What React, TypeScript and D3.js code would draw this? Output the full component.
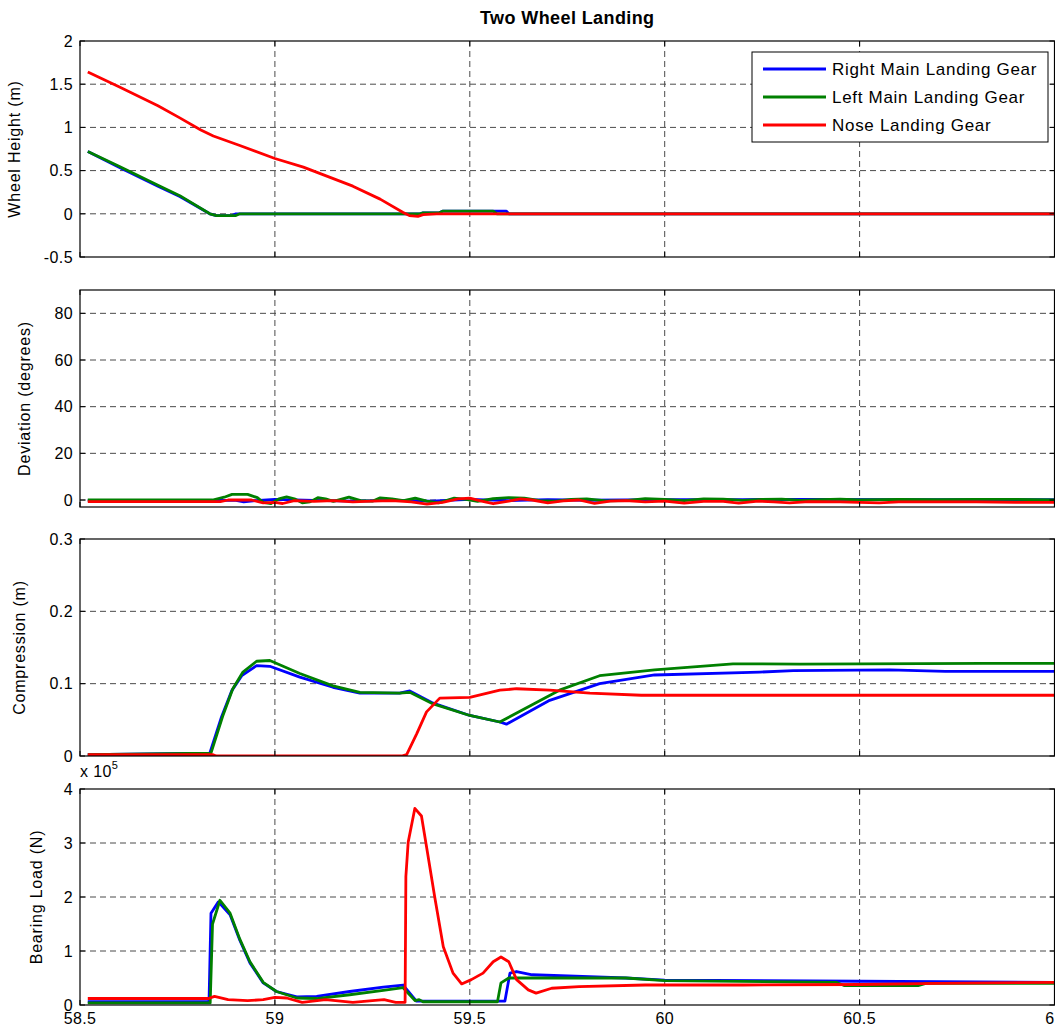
import React from "react";
import * as d3 from "d3";

type P = [number, number];

const xTicks = [58.5, 59, 59.5, 60, 60.5, 61];
const xTickLabels = ["58.5", "59", "59.5", "60", "60.5", "61"];

const seriesNames = ["Right Main Landing Gear", "Left Main Landing Gear", "Nose Landing Gear"];
const seriesColors = ["#0000ff", "#008000", "#ff0000"];

// Panel 1: Wheel Height (m)
const heightRight: P[] = [[58.52, 0.72], [58.6, 0.54], [58.7, 0.32], [58.756, 0.2], [58.833, 0.0], [58.85, -0.02], [58.89, -0.02], [58.9, 0], [59.372, 0], [59.38, 0.01], [59.42, 0.01], [59.43, 0.03], [59.594, 0.03], [59.6, 0], [61, 0]];
const heightLeft: P[] = [[58.52, 0.72], [58.6, 0.55], [58.7, 0.33], [58.756, 0.21], [58.833, 0.0], [58.85, -0.02], [58.9, -0.02], [58.91, 0], [59.372, 0], [59.38, 0.01], [59.42, 0.01], [59.43, 0.03], [59.56, 0.03], [59.57, 0], [61, 0]];
const heightNose: P[] = [[58.52, 1.64], [58.6, 1.47], [58.7, 1.25], [58.756, 1.11], [58.81, 0.97], [58.842, 0.9], [58.91, 0.79], [59.0, 0.64], [59.073, 0.54], [59.2, 0.32], [59.27, 0.17], [59.329, 0.015], [59.345, -0.02], [59.367, -0.03], [59.38, -0.01], [59.415, 0], [61, 0]];

// Panel 2: Deviation (degrees)
const devRight: P[] = [[58.52, -0.2], [58.9, -0.2], [58.92, -0.8], [58.95, -0.3], [59.0, 0.3], [59.1, -0.2], [59.2, -0.5], [59.3, -0.2], [59.4, -0.5], [59.5, 0.3], [59.6, -0.3], [59.7, 0.2], [59.8, -0.1], [60.0, 0.2], [60.2, 0.2], [60.4, 0.3], [60.6, 0.2], [60.8, 0.2], [61, 0.2]];
const devLeft: P[] = [[58.52, 0], [58.84, 0], [58.87, 1.2], [58.89, 2.4], [58.93, 2.4], [58.955, 1.0], [58.97, -1.0], [58.99, -1.5], [59.01, 0.5], [59.03, 1.3], [59.05, 0.5], [59.07, -1.2], [59.09, -0.8], [59.11, 1.0], [59.13, 0.5], [59.15, -0.6], [59.19, 1.2], [59.22, -0.3], [59.25, -0.5], [59.27, 0.9], [59.3, 0.5], [59.33, -0.3], [59.36, 0.8], [59.39, -0.5], [59.42, -1.2], [59.46, 0.8], [59.49, 0.3], [59.52, -0.6], [59.56, 0.6], [59.6, 1.0], [59.64, 0.8], [59.68, -0.3], [59.72, -0.5], [59.76, 0.3], [59.8, 0.5], [59.85, -0.4], [59.9, -0.3], [59.95, 0.6], [60.0, 0.3], [60.05, -0.3], [60.1, 0.5], [60.15, 0.4], [60.2, -0.2], [60.25, 0.3], [60.3, 0.4], [60.35, -0.2], [60.4, 0.2], [60.45, 0.4], [60.5, 0], [60.6, 0.3], [60.7, 0.2], [60.8, 0.3], [60.9, 0.3], [61, 0]];
const devNose: P[] = [[58.52, -0.7], [58.86, -0.7], [58.88, 0], [58.94, 0], [58.97, -1.2], [59.0, -1.0], [59.02, -1.5], [59.05, -0.3], [59.1, -0.6], [59.15, -0.3], [59.2, -0.8], [59.25, -0.5], [59.3, -0.3], [59.35, -0.8], [59.39, -1.8], [59.43, -1.0], [59.47, 0.5], [59.5, 0.8], [59.53, -0.5], [59.56, -1.6], [59.6, -0.5], [59.63, 0.5], [59.66, 0], [59.7, -1.2], [59.74, -0.4], [59.78, 0], [59.82, -1.4], [59.86, -0.5], [59.9, -0.3], [59.95, -0.8], [60.0, -0.5], [60.05, -1.3], [60.1, -0.6], [60.15, -0.6], [60.19, -1.3], [60.24, -0.5], [60.28, -0.8], [60.32, -1.2], [60.37, -0.7], [60.45, -0.8], [60.55, -1.2], [60.6, -0.8], [60.7, -0.8], [60.8, -0.8], [60.9, -1.0], [61, -1.0]];

// Panel 3: Compression (m)
const compRight: P[] = [[58.52, 0.002], [58.833, 0.004], [58.863, 0.054], [58.889, 0.09], [58.915, 0.111], [58.953, 0.125], [58.987, 0.124], [59.064, 0.109], [59.149, 0.095], [59.218, 0.087], [59.32, 0.087], [59.346, 0.09], [59.406, 0.073], [59.5, 0.056], [59.577, 0.047], [59.594, 0.044], [59.705, 0.077], [59.833, 0.1], [59.974, 0.112], [60.244, 0.116], [60.33, 0.118], [60.577, 0.119], [60.72, 0.117], [61, 0.117]];
const compLeft: P[] = [[58.52, 0.002], [58.836, 0.004], [58.866, 0.055], [58.892, 0.093], [58.918, 0.116], [58.953, 0.131], [58.987, 0.132], [59.064, 0.114], [59.149, 0.097], [59.218, 0.088], [59.32, 0.087], [59.346, 0.088], [59.406, 0.072], [59.5, 0.056], [59.577, 0.047], [59.73, 0.091], [59.833, 0.111], [59.974, 0.119], [60.175, 0.1275], [60.346, 0.127], [60.816, 0.128], [61, 0.128]];
const compNose: P[] = [[58.52, 0.002], [58.84, 0.002], [58.85, 0], [59.325, 0], [59.338, 0.002], [59.364, 0.031], [59.389, 0.061], [59.423, 0.08], [59.5, 0.081], [59.577, 0.091], [59.62, 0.093], [59.705, 0.091], [59.808, 0.087], [59.94, 0.084], [61, 0.084]];

// Panel 4: Bearing Load (x 10^5 N)
const loadRight: P[] = [[58.52, 0.06], [58.831, 0.06], [58.836, 1.7], [58.855, 1.91], [58.885, 1.67], [58.91, 1.2], [58.936, 0.78], [58.97, 0.41], [59.004, 0.25], [59.056, 0.15], [59.107, 0.16], [59.192, 0.25], [59.278, 0.33], [59.329, 0.37], [59.363, 0.07], [59.59, 0.07], [59.603, 0.59], [59.62, 0.62], [59.66, 0.56], [59.9, 0.5], [60.0, 0.46], [60.5, 0.44], [61, 0.42]];
const loadLeft: P[] = [[58.52, 0.04], [58.834, 0.04], [58.84, 1.5], [58.859, 1.94], [58.885, 1.7], [58.91, 1.22], [58.936, 0.8], [58.97, 0.42], [59.004, 0.25], [59.056, 0.13], [59.107, 0.12], [59.192, 0.19], [59.278, 0.27], [59.329, 0.32], [59.36, 0.08], [59.37, 0.1], [59.38, 0.06], [59.571, 0.06], [59.58, 0.41], [59.6, 0.5], [59.9, 0.5], [60.0, 0.45], [60.44, 0.42], [60.46, 0.36], [60.65, 0.36], [60.67, 0.4], [61, 0.4]];
const loadNose: P[] = [[58.52, 0.12], [58.83, 0.12], [58.845, 0.16], [58.88, 0.1], [58.93, 0.08], [58.97, 0.1], [59.0, 0.14], [59.03, 0.13], [59.07, 0.05], [59.13, 0.1], [59.2, 0.05], [59.25, 0.08], [59.28, 0.1], [59.31, 0.05], [59.334, 0.05], [59.336, 2.38], [59.342, 3.02], [59.359, 3.64], [59.376, 3.5], [59.389, 2.93], [59.41, 2.0], [59.432, 1.08], [59.457, 0.59], [59.479, 0.39], [59.504, 0.47], [59.534, 0.59], [59.56, 0.8], [59.58, 0.89], [59.6, 0.8], [59.62, 0.47], [59.65, 0.28], [59.67, 0.22], [59.71, 0.31], [59.78, 0.34], [59.95, 0.37], [60.2, 0.37], [60.5, 0.38], [60.7, 0.4], [61, 0.42]];

const panels = [
  { label: "Wheel Height (m)", domain: [-0.5, 2], ticks: [-0.5, 0, 0.5, 1, 1.5, 2], tickLabels: ["-0.5", "0", "0.5", "1", "1.5", "2"], series: [heightRight, heightLeft, heightNose], top: 41, bottom: 257, labelX: 20 },
  { label: "Deviation (degrees)", domain: [-3, 90], ticks: [0, 20, 40, 60, 80], tickLabels: ["0", "20", "40", "60", "80"], series: [devRight, devLeft, devNose], top: 290, bottom: 507, labelX: 30 },
  { label: "Compression (m)", domain: [0, 0.3], ticks: [0, 0.1, 0.2, 0.3], tickLabels: ["0", "0.1", "0.2", "0.3"], series: [compRight, compLeft, compNose], top: 539, bottom: 756, labelX: 25 },
  { label: "Bearing Load (N)", domain: [0, 4], ticks: [0, 1, 2, 3, 4], tickLabels: ["0", "1", "2", "3", "4"], series: [loadRight, loadLeft, loadNose], top: 789, bottom: 1005, labelX: 42 },
];

const FONT = "'Liberation Sans', Arial, Helvetica, sans-serif";

export default function App() {
  const W = 1055, H = 1030;
  const left = 80, right = 1054.5;
  const x = d3.scaleLinear().domain([58.5, 61]).range([left, right]);

  return (
    <svg width={W} height={H} style={{ position: "absolute", left: 0, top: 0, display: "block", background: "#fff" }} fontFamily={FONT}>
      <rect x={0} y={0} width={W} height={H} fill="#fff" />
      <text x={(left + right) / 2} y={24} textAnchor="middle" fontSize={18} fontWeight="bold" letterSpacing={0.4}>Two Wheel Landing</text>
      {panels.map((p, pi) => {
        const y = d3.scaleLinear().domain(p.domain).range([p.bottom, p.top]);
        const line = d3.line<P>().x(d => x(d[0])).y(d => y(d[1]));
        const clipId = `clip${pi}`;
        return (
          <g key={pi}>
            <defs>
              <clipPath id={clipId}>
                <rect x={left} y={p.top} width={right - left} height={p.bottom - p.top} />
              </clipPath>
            </defs>
            {xTicks.slice(1, -1).map((t, i) => (
              <line key={"gx" + i} x1={x(t)} x2={x(t)} y1={p.top} y2={p.bottom} stroke="#4a4a4a" strokeDasharray="6,4" strokeWidth={1} />
            ))}
            {p.ticks.filter(t => t !== p.domain[0] && t !== p.domain[1]).map((t, i) => (
              <line key={"gy" + i} x1={left} x2={right} y1={y(t)} y2={y(t)} stroke="#4a4a4a" strokeDasharray="6,4" strokeWidth={1} />
            ))}
            <g clipPath={`url(#${clipId})`}>
              {p.series.map((s, si) => (
                <path key={si} d={line(s) || ""} fill="none" stroke={seriesColors[si]} strokeWidth={2.8} strokeLinejoin="round" />
              ))}
            </g>
            <rect x={left} y={p.top} width={right - left} height={p.bottom - p.top} fill="none" stroke="#000" strokeWidth={1.2} />
            {p.ticks.map((t, i) => (
              <g key={"ty" + i}>
                <line x1={left} x2={left + 5} y1={y(t)} y2={y(t)} stroke="#000" />
                <line x1={right - 5} x2={right} y1={y(t)} y2={y(t)} stroke="#000" />
                <text x={73} y={y(t)} dy="0.36em" textAnchor="end" fontSize={16} letterSpacing={0.4}>{p.tickLabels[i]}</text>
              </g>
            ))}
            {xTicks.map((t, i) => (
              <g key={"tx" + i}>
                <line x1={x(t)} x2={x(t)} y1={p.bottom} y2={p.bottom - 5} stroke="#000" />
                <line x1={x(t)} x2={x(t)} y1={p.top} y2={p.top + 5} stroke="#000" />
              </g>
            ))}
            {pi === panels.length - 1 && xTicks.map((t, i) => (
              <text key={"xl" + i} x={x(t)} y={1024} textAnchor="middle" fontSize={16} letterSpacing={0.4}>{xTickLabels[i]}</text>
            ))}
            <text transform={`translate(${p.labelX},${(p.top + p.bottom) / 2}) rotate(-90)`} textAnchor="middle" fontSize={16} letterSpacing={0.8}>{p.label}</text>
          </g>
        );
      })}
      <text x={80} y={777} fontSize={16} letterSpacing={0.4}>x 10<tspan dy={-8} fontSize={11}>5</tspan></text>
      <g>
        <rect x={752} y={52} width={296} height={90} fill="#fff" stroke="#000" strokeWidth={1} />
        {seriesNames.map((n, i) => (
          <g key={n}>
            <line x1={763} x2={826} y1={69 + i * 28} y2={69 + i * 28} stroke={seriesColors[i]} strokeWidth={2.8} />
            <text x={832} y={69 + i * 28} dy="0.36em" fontSize={17} letterSpacing={0.7}>{n}</text>
          </g>
        ))}
      </g>
    </svg>
  );
}
